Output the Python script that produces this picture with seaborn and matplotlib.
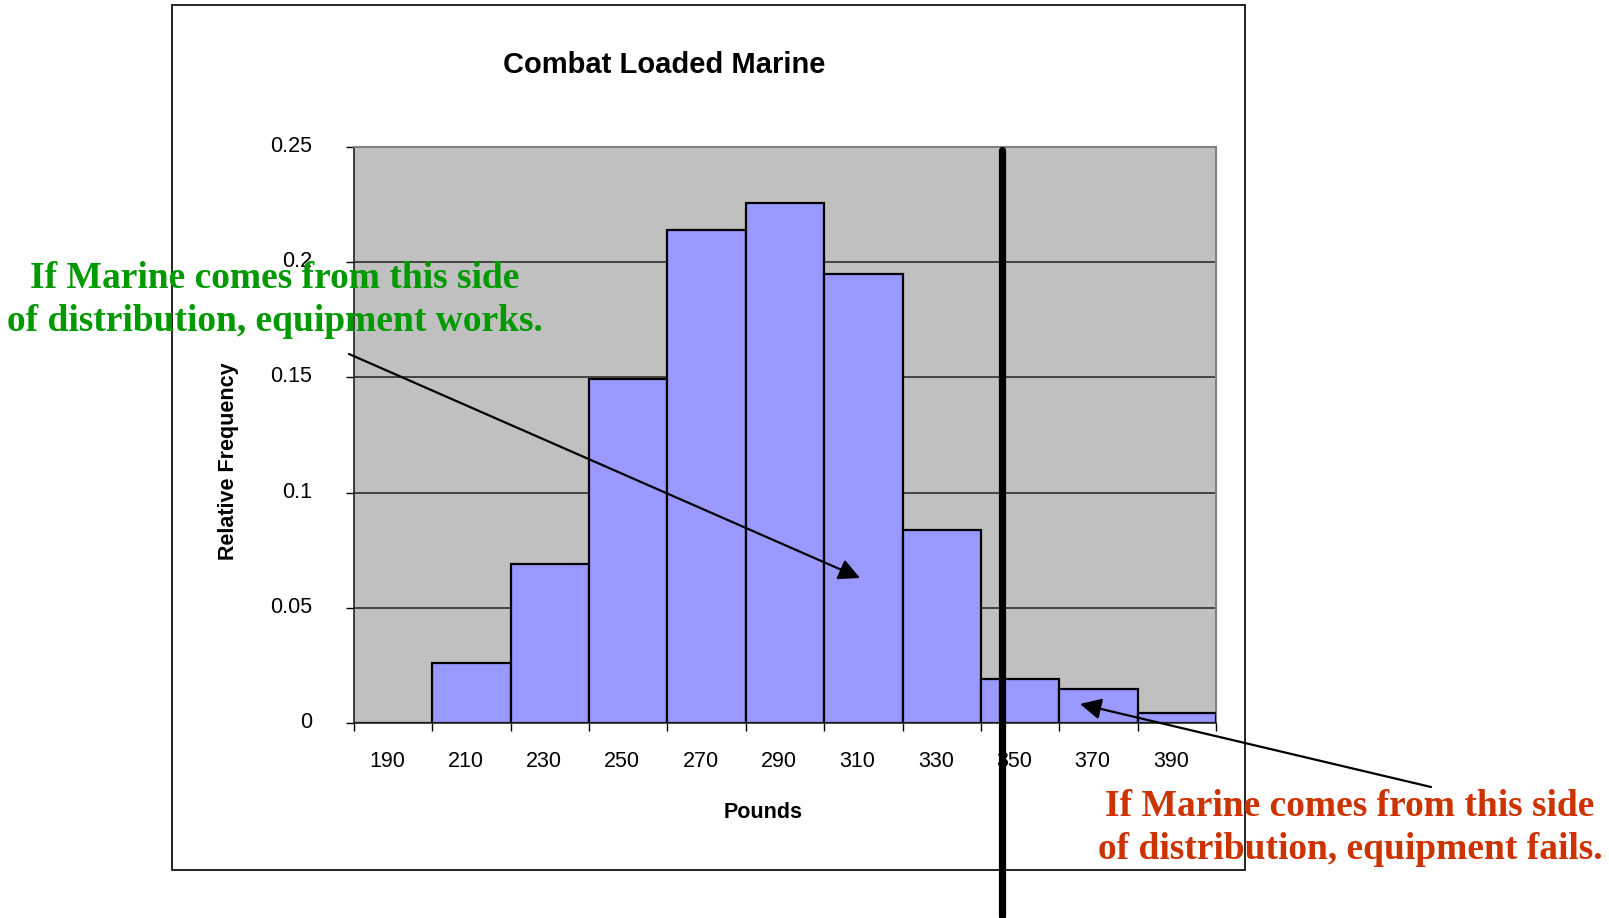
import numpy as np
import matplotlib
matplotlib.use('Agg')
import matplotlib.pyplot as plt
import seaborn as sns
from matplotlib.patches import Rectangle, FancyArrowPatch
from matplotlib.transforms import ScaledTranslation

# data
pounds = [190, 210, 230, 250, 270, 290, 310, 330, 350, 370, 390]
rel_freq = [0.0, 0.026, 0.069, 0.1495, 0.214, 0.2255, 0.1948, 0.0836, 0.0191, 0.0147, 0.0044]
cutoff_lb = 345.5
y_ticks = [0, 0.05, 0.1, 0.15, 0.2, 0.25]
y_labels = ['0', '0.05', '0.1', '0.15', '0.2', '0.25']

sns.set_style('white')
plt.rcParams['font.family'] = ['Liberation Sans', 'DejaVu Sans']
plt.rcParams['text.color'] = 'black'
plt.rcParams['axes.labelcolor'] = 'black'
plt.rcParams['xtick.color'] = 'black'
plt.rcParams['ytick.color'] = 'black'

fig = plt.figure(figsize=(16.09, 9.18), dpi=100)
ax = fig.add_axes([354 / 1609, 1 - 723 / 918, 862 / 1609, 576 / 918])
ax.set_facecolor('#C0C0C0')

labels = [str(p) for p in pounds]
sns.barplot(x=labels, y=rel_freq, order=labels, width=1, color='#9999FF',
            saturation=1, edgecolor='black', linewidth=1.6, ax=ax, zorder=3)

ax.set_xlim(-0.5, len(pounds) - 0.5)
ax.set_ylim(0, 0.25)
ax.set_yticks(y_ticks)
ax.set_yticklabels(y_labels)
for y in y_ticks[1:-1]:
    ax.axhline(y, color='#222222', lw=1.1, zorder=1)

# category ticks between bins, labels under bins
ax.set_xticks(np.arange(len(pounds)))
ax.set_xticks(np.arange(-0.5, len(pounds), 1), minor=True)
ax.tick_params(axis='x', which='major', length=0, pad=20, labelsize=15.5)
ax.tick_params(axis='x', which='minor', length=6, width=1, direction='out', bottom=True)
ax.tick_params(axis='y', length=6, width=1, direction='out', left=True, pad=24, labelsize=15.5)

shift_left = ScaledTranslation(-6 / 100, 0, fig.dpi_scale_trans)
for lbl in ax.get_xticklabels():
    lbl.set_transform(lbl.get_transform() + shift_left)
shift_up = ScaledTranslation(0, 3 / 100, fig.dpi_scale_trans)
for lbl in ax.get_yticklabels():
    lbl.set_transform(lbl.get_transform() + shift_up)

for side in ['top', 'right']:
    ax.spines[side].set_color('#808080')
    ax.spines[side].set_linewidth(1.5)
for side in ['left', 'bottom']:
    ax.spines[side].set_color('#222222')
    ax.spines[side].set_linewidth(1.2)
ax.spines['bottom'].set_zorder(4)

ax.set_xlabel('Pounds', fontsize=15.5, fontweight='bold')
ax.set_ylabel('Relative Frequency', fontsize=15.5, fontweight='bold')
ax.xaxis.set_label_coords(0.475, -0.138)
ax.yaxis.set_label_coords(-0.1335, 0.454)

fig.text(664 / 1609, 1 - 65 / 918, 'Combat Loaded Marine', fontsize=21,
         fontweight='bold', ha='center', va='center')

# chart area border
fig.patches.append(Rectangle((172 / 1609, 1 - 870 / 918), 1073 / 1609, 865 / 918,
                             transform=fig.transFigure, fill=False,
                             edgecolor='black', lw=1.2, zorder=0))

# cutoff line, running past the plot area
cut_x = (cutoff_lb - pounds[0]) / (pounds[1] - pounds[0])
ax.plot([cut_x, cut_x], [0.994, -0.335], color='black', lw=5.2,
        transform=ax.get_xaxis_transform(), clip_on=False, zorder=6)

serif = ['Liberation Serif', 'DejaVu Serif']
fig.text(275 / 1609, 1 - 300 / 918,
         'If Marine comes from this side\nof distribution, equipment works.',
         family=serif, fontsize=27, fontweight='bold', color='#009900',
         ha='center', va='center', linespacing=1.3, zorder=7)
fig.text(1350 / 1609, 1 - 828 / 918,
         'If Marine comes from this side\nof distribution, equipment fails.',
         family=serif, fontsize=27, fontweight='bold', color='#CC3300',
         ha='center', va='center', linespacing=1.3, zorder=7)

arrow = dict(arrowstyle='-|>', mutation_scale=32, lw=1.6, color='black',
             shrinkA=0, shrinkB=0)
fig.add_artist(FancyArrowPatch(
    (349 / 1609, 1 - 354 / 918), (860 / 1609, 1 - 578 / 918),
    transform=fig.transFigure, **arrow))
fig.add_artist(FancyArrowPatch(
    (1431 / 1609, 1 - 787 / 918), (1080 / 1609, 1 - 704 / 918),
    transform=fig.transFigure, **arrow))

fig.savefig('out.png', dpi=100)
